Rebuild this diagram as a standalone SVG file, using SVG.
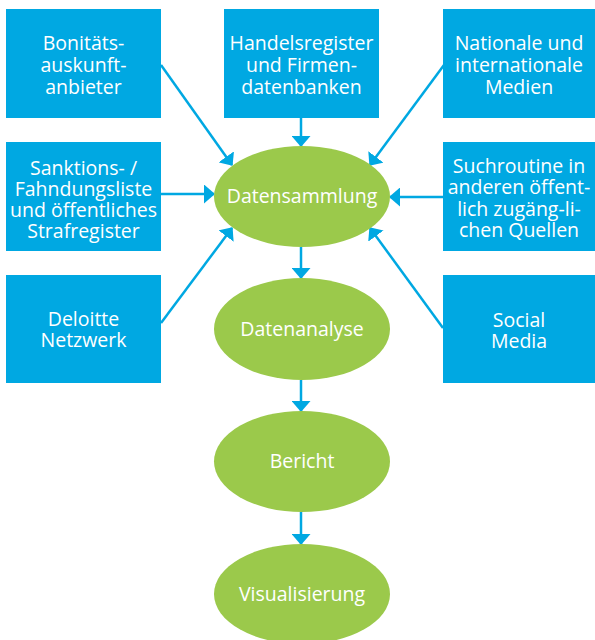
<svg xmlns="http://www.w3.org/2000/svg" width="595" height="640" viewBox="0 0 595 640">
<style>
.box{fill:#00A8E2}
.ell{fill:#9BC94B}
.t{fill:#fff;font-family:"Open Sans","Noto Sans",sans-serif;font-size:19.5px;text-anchor:middle}
.c{stroke:#00A8E2;stroke-width:2.5;fill:none}
</style>
<defs>
<marker id="ah" viewBox="0 0 11 19" refX="10" refY="9.5" markerWidth="4.4" markerHeight="7.6" orient="auto" markerUnits="strokeWidth">
<path d="M0,0 L11,9.5 L0,19 Z" fill="#00A8E2"/>
</marker>
</defs>
<rect width="595" height="640" fill="#fff"/>
<g id="connectors">
<line class="c" x1="301" y1="118" x2="301" y2="146" marker-end="url(#ah)"/>
<line class="c" x1="161" y1="65" x2="232" y2="165" marker-end="url(#ah)"/>
<line class="c" x1="444" y1="65" x2="370" y2="165" marker-end="url(#ah)"/>
<line class="c" x1="161" y1="194" x2="214" y2="194" marker-end="url(#ah)"/>
<line class="c" x1="443" y1="197" x2="390" y2="197" marker-end="url(#ah)"/>
<line class="c" x1="161" y1="323" x2="232" y2="228" marker-end="url(#ah)"/>
<line class="c" x1="443" y1="328" x2="370" y2="228" marker-end="url(#ah)"/>
<line class="c" x1="301" y1="247" x2="301" y2="278" marker-end="url(#ah)"/>
<line class="c" x1="301" y1="380" x2="301" y2="411" marker-end="url(#ah)"/>
<line class="c" x1="301" y1="512" x2="301" y2="544" marker-end="url(#ah)"/>
</g>
<g id="bonitaet"><rect class="box" x="6" y="9" width="155" height="109"/>
<text class="t"><tspan x="83.5" y="50">Bonitäts-</tspan><tspan x="83.5" y="72">auskunft-</tspan><tspan x="83.5" y="94">anbieter</tspan></text></g>
<g id="handelsregister"><rect class="box" x="224" y="9" width="155" height="109"/>
<text class="t"><tspan x="301.5" y="50">Handelsregister</tspan><tspan x="301.5" y="72">und Firmen-</tspan><tspan x="301.5" y="94">datenbanken</tspan></text></g>
<g id="medien"><rect class="box" x="443" y="9" width="152" height="109"/>
<text class="t"><tspan x="519" y="50">Nationale und</tspan><tspan x="519" y="72">internationale</tspan><tspan x="519" y="94">Medien</tspan></text></g>
<g id="sanktionen"><rect class="box" x="6" y="142" width="155" height="109"/>
<text class="t"><tspan x="83.5" y="175">Sanktions- /</tspan><tspan x="83.5" y="196">Fahndungsliste</tspan><tspan x="83.5" y="217">und öffentliches</tspan><tspan x="83.5" y="238">Strafregister</tspan></text></g>
<g id="suchroutine"><rect class="box" x="443" y="142" width="152" height="109"/>
<text class="t"><tspan x="519" y="173">Suchroutine in</tspan><tspan x="519" y="194">anderen öffent-</tspan><tspan x="519" y="216">lich zugäng-li-</tspan><tspan x="519" y="237">chen Quellen</tspan></text></g>
<g id="deloitte"><rect class="box" x="6" y="275" width="155" height="108"/>
<text class="t"><tspan x="83.5" y="326">Deloitte</tspan><tspan x="83.5" y="347">Netzwerk</tspan></text></g>
<g id="social"><rect class="box" x="443" y="275" width="152" height="108"/>
<text class="t"><tspan x="519" y="327">Social</tspan><tspan x="519" y="348">Media</tspan></text></g>
<g id="datensammlung"><ellipse class="ell" cx="302" cy="196.5" rx="88" ry="50.5"/>
<text class="t" x="302" y="203">Datensammlung</text></g>
<g id="datenanalyse"><ellipse class="ell" cx="302" cy="329" rx="88" ry="51"/>
<text class="t" x="302" y="336">Datenanalyse</text></g>
<g id="bericht"><ellipse class="ell" cx="302" cy="461.5" rx="88" ry="50.5"/>
<text class="t" x="302" y="468">Bericht</text></g>
<g id="visualisierung"><ellipse class="ell" cx="302" cy="594" rx="88" ry="50"/>
<text class="t" x="302" y="601">Visualisierung</text></g>
</svg>
